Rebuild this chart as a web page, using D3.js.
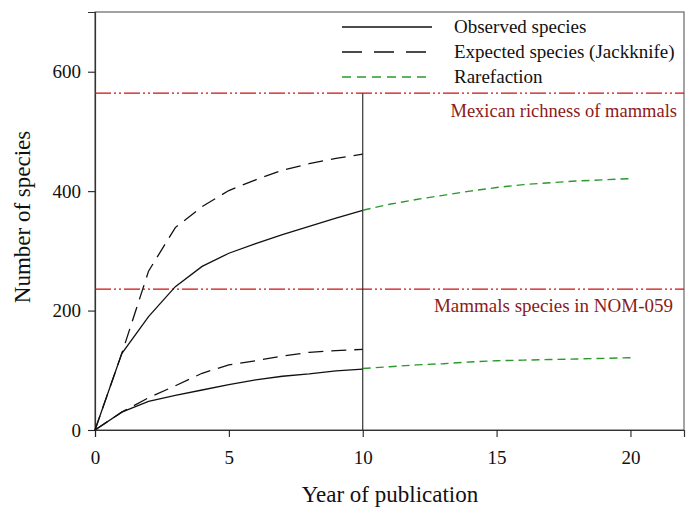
<!DOCTYPE html>
<html>
<head>
<meta charset="utf-8">
<script src="https://cdn.jsdelivr.net/npm/d3@7"></script>
<style>
  html, body { margin: 0; padding: 0; background: #fff; }
  svg { display: block; }
  text { font-family: "Liberation Serif", "Times New Roman", serif; }
</style>
</head>
<body>
<svg id="chart" width="689" height="508"></svg>
<script>
// Years of publication
const years = [0, 1, 2, 3, 4, 5, 6, 7, 8, 9, 10];
const rareYears = [10, 11, 12, 13, 14, 15, 16, 17, 18, 19, 20];

// Upper group of curves
const observedHigh = [0, 128, 190, 240, 274, 296, 312, 327, 341, 355, 368];
const jackknifeHigh = [0, 128, 266, 339, 374, 401, 419, 435, 446, 455, 462];
const rarefactionHigh = [368, 378, 386, 393, 400, 406, 411, 414, 417, 419, 421];

// Lower group of curves
const observedLow = [0, 30, 48, 58, 67, 76, 84, 90, 94, 99, 102];
const jackknifeLow = [0, 30, 54, 74, 95, 109, 116, 124, 130, 133, 135];
const rarefactionLow = [103, 106, 109, 111, 114, 116, 117, 118, 119, 120, 121];

// Reference richness levels
const refLevels = [564, 236];
const refLabels = ["Mexican richness of mammals", "Mammals species in NOM-059"];

const xTicks = [0, 5, 10, 15, 20];
const yTicks = [0, 200, 400, 600];

const legendLabels = ["Observed species", "Expected species (Jackknife)", "Rarefaction"];

const svg = d3.select("#chart");
const m = { left: 95, top: 12, right: 5, bottom: 78 };
const W = 689, H = 508;
const pw = W - m.left - m.right, ph = H - m.top - m.bottom;

const x = d3.scaleLinear().domain([0, 22]).range([m.left, m.left + pw]);
const y = d3.scaleLinear().domain([0, 700]).range([m.top + ph, m.top]);

const line = d3.line().x(d => x(d[0])).y(d => y(d[1]));
const zip = (xs, vs) => xs.map((t, i) => [t, vs[i]]);

const black = "#111";
const green = "#2a9a2a";
const red = "#cc1111";
const darkRed = "#8b1a1a";

// Frame
svg.append("rect")
  .attr("x", m.left).attr("y", m.top).attr("width", pw).attr("height", ph)
  .attr("fill", "none").attr("stroke", "#666").attr("stroke-width", 1.2);

// Axes
const xAxis = svg.append("g")
  .attr("transform", `translate(0,${m.top + ph})`)
  .call(d3.axisBottom(x).tickValues(xTicks).tickSize(7).tickPadding(14).tickFormat(d3.format("d")));
const yAxis = svg.append("g")
  .attr("transform", `translate(${m.left},0)`)
  .call(d3.axisLeft(y).tickValues(yTicks).tickSize(7).tickPadding(7).tickFormat(d3.format("d")));
[xAxis, yAxis].forEach(g => {
  g.select(".domain").attr("stroke", "#333").attr("stroke-width", 1.2);
  g.selectAll(".tick line").attr("stroke", "#222").attr("stroke-width", 1.1);
  g.selectAll(".tick text").attr("font-size", 19).attr("fill", "#111")
    .attr("font-family", "Liberation Serif, Times New Roman, serif");
});

// Reference levels
svg.selectAll(".ref").data(refLevels).enter().append("line")
  .attr("x1", m.left).attr("x2", m.left + pw)
  .attr("y1", d => y(d)).attr("y2", d => y(d))
  .attr("stroke", red).attr("stroke-width", 1.3)
  .attr("stroke-dasharray", "16,3,2,3,2,3");

svg.append("text").attr("x", 677).attr("y", y(refLevels[0]) + 24)
  .attr("text-anchor", "end").attr("font-size", 18.5).attr("fill", darkRed)
  .text(refLabels[0]);
svg.append("text").attr("x", 673).attr("y", y(refLevels[1]) + 23)
  .attr("text-anchor", "end").attr("font-size", 19).attr("fill", darkRed)
  .text(refLabels[1]);

// Vertical divider at year 10
svg.append("line")
  .attr("x1", x(10)).attr("x2", x(10))
  .attr("y1", y(0)).attr("y2", y(refLevels[0]))
  .attr("stroke", "#333").attr("stroke-width", 1.2);

// Curves
const curves = [
  { d: zip(years, observedHigh), c: black, dash: null, w: 1.3 },
  { d: zip(years, observedLow), c: black, dash: null, w: 1.3 },
  { d: zip(years, jackknifeHigh), c: black, dash: "15,8", w: 1.3 },
  { d: zip(years, jackknifeLow), c: black, dash: "15,8", w: 1.3 },
  { d: zip(rareYears, rarefactionHigh), c: green, dash: "8,5", w: 1.4 },
  { d: zip(rareYears, rarefactionLow), c: green, dash: "8,5", w: 1.4 }
];
svg.selectAll(".curve").data(curves).enter().append("path")
  .attr("d", d => line(d.d))
  .attr("fill", "none")
  .attr("stroke", d => d.c)
  .attr("stroke-width", d => d.w)
  .attr("stroke-dasharray", d => d.dash);

// Legend
const legendStyles = [
  { c: black, dash: null },
  { c: black, dash: "20,12" },
  { c: green, dash: "9,6" }
];
const lg = svg.append("g");
legendLabels.forEach((lab, i) => {
  const ly = 27 + i * 25;
  lg.append("line").attr("x1", 342).attr("x2", 432).attr("y1", ly).attr("y2", ly)
    .attr("stroke", legendStyles[i].c).attr("stroke-width", 1.3)
    .attr("stroke-dasharray", legendStyles[i].dash);
  lg.append("text").attr("x", 454).attr("y", ly + 6).attr("font-size", 19)
    .attr("fill", "#111").text(lab);
});

// Axis titles
svg.append("text").attr("x", 390).attr("y", 502)
  .attr("text-anchor", "middle").attr("font-size", 23).attr("fill", "#111")
  .text("Year of publication");
svg.append("text")
  .attr("transform", `translate(30,217) rotate(-90)`)
  .attr("text-anchor", "middle").attr("font-size", 23).attr("fill", "#111")
  .text("Number of species");
</script>
</body>
</html>
